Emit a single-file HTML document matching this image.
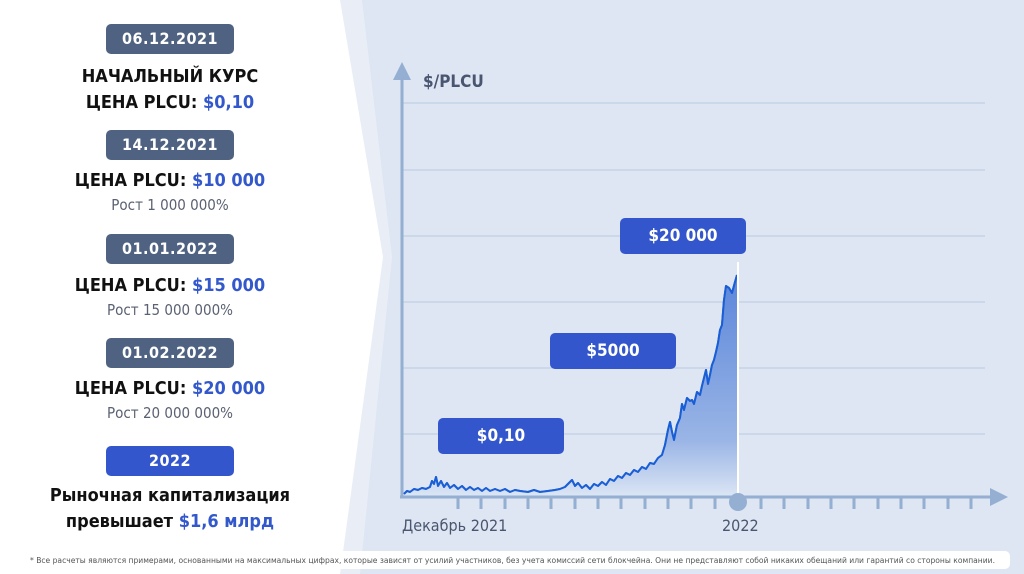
<!DOCTYPE html>
<html><head><meta charset="utf-8"><style>
body{margin:0;width:1024px;height:574px;overflow:hidden;background:#dde6f2;font-family:"DejaVu Sans Condensed","DejaVu Sans","Liberation Sans",sans-serif;font-stretch:condensed;position:relative}
.bx{position:absolute;left:106px;width:128px;height:30px;border-radius:5px;background:#4f6282;color:#fff;font-size:16px;font-weight:bold;text-align:center;line-height:30px;letter-spacing:0.5px}
.t{position:absolute;left:0;width:340px;text-align:center;color:#111;font-weight:bold;font-size:18px;line-height:26px}
.s{position:absolute;left:0;width:340px;text-align:center;color:#5a6172;font-size:15px}
.b{color:#3358cc}
.lab{position:absolute;background:#3356cc;color:#fff;border-radius:5px;font-size:17px;font-weight:bold;text-align:center;line-height:36px;width:126px;height:36px}
</style></head><body>
<svg width="1024" height="574" style="position:absolute;left:0;top:0">
<defs><linearGradient id="g" x1="0" y1="0" x2="0" y2="1"><stop offset="0" stop-color="#5b86da"/><stop offset="0.75" stop-color="#9ab5e6"/><stop offset="1" stop-color="#dbe5f4"/></linearGradient></defs>
<polygon points="0,0 362,0 392,257 360,574 0,574" fill="#e9eef6"/>
<polygon points="0,0 340,0 383,257 340,574 0,574" fill="#fff"/>
<g stroke="#b8c9e0" stroke-width="1">
<line x1="402" y1="103" x2="985" y2="103"/><line x1="402" y1="170" x2="985" y2="170"/><line x1="402" y1="236" x2="985" y2="236"/><line x1="402" y1="302" x2="985" y2="302"/><line x1="402" y1="368" x2="985" y2="368"/><line x1="402" y1="434" x2="985" y2="434"/></g>
<path id="ln" d="M404,494 L407,491 L410,492 L414,489 L418,490 L422,488 L426,489 L430,487 L432,481 L434,484 L436,477 L438,486 L441,481 L444,487 L447,483 L450,488 L454,485 L458,489 L462,486 L466,490 L470,487 L474,490 L478,488 L482,491 L486,488 L490,491 L495,489 L500,491 L505,489 L510,492 L515,490 L520,491 L528,492 L534,490 L540,492 L548,491 L555,490 L560,489 L565,487 L568,484 L572,480 L575,486 L578,483 L582,488 L586,485 L590,489 L594,484 L598,486 L602,482 L606,485 L610,479 L614,481 L618,476 L622,478 L626,473 L630,475 L634,470 L638,472 L642,467 L646,469 L650,463 L654,464 L658,458 L662,455 L665,445 L668,430 L670,422 L672,432 L674,440 L677,425 L680,418 L682,404 L684,410 L687,398 L690,401 L692,400 L694,404 L697,392 L700,395 L702,386 L704,378 L706,370 L708,384 L710,375 L712,365 L714,360 L716,352 L718,343 L720,330 L722,325 L724,300 L726,286 L729,288 L732,293 L735,282 L737,275" fill="none" stroke="#1a5ed6" stroke-width="2" stroke-linejoin="round"/>
<path d="M404,494 L407,491 L410,492 L414,489 L418,490 L422,488 L426,489 L430,487 L432,481 L434,484 L436,477 L438,486 L441,481 L444,487 L447,483 L450,488 L454,485 L458,489 L462,486 L466,490 L470,487 L474,490 L478,488 L482,491 L486,488 L490,491 L495,489 L500,491 L505,489 L510,492 L515,490 L520,491 L528,492 L534,490 L540,492 L548,491 L555,490 L560,489 L565,487 L568,484 L572,480 L575,486 L578,483 L582,488 L586,485 L590,489 L594,484 L598,486 L602,482 L606,485 L610,479 L614,481 L618,476 L622,478 L626,473 L630,475 L634,470 L638,472 L642,467 L646,469 L650,463 L654,464 L658,458 L662,455 L665,445 L668,430 L670,422 L672,432 L674,440 L677,425 L680,418 L682,404 L684,410 L687,398 L690,401 L692,400 L694,404 L697,392 L700,395 L702,386 L704,378 L706,370 L708,384 L710,375 L712,365 L714,360 L716,352 L718,343 L720,330 L722,325 L724,300 L726,286 L729,288 L732,293 L735,282 L737,275 L737,496 L404,496 Z" fill="url(#g)"/>
<use href="#ln"/>
<line x1="738" y1="262" x2="738" y2="496" stroke="#fff" stroke-width="2"/>
<g stroke="#94afd2" stroke-width="3">
<line x1="402" y1="72" x2="402" y2="498"/><line x1="400" y1="497" x2="998" y2="497"/>
<line x1="458" y1="497" x2="458" y2="509"/><line x1="481" y1="497" x2="481" y2="509"/><line x1="505" y1="497" x2="505" y2="509"/><line x1="528" y1="497" x2="528" y2="509"/><line x1="551" y1="497" x2="551" y2="509"/><line x1="575" y1="497" x2="575" y2="509"/><line x1="598" y1="497" x2="598" y2="509"/><line x1="621" y1="497" x2="621" y2="509"/><line x1="645" y1="497" x2="645" y2="509"/><line x1="668" y1="497" x2="668" y2="509"/><line x1="691" y1="497" x2="691" y2="509"/><line x1="715" y1="497" x2="715" y2="509"/><line x1="761" y1="497" x2="761" y2="509"/><line x1="784" y1="497" x2="784" y2="509"/><line x1="808" y1="497" x2="808" y2="509"/><line x1="831" y1="497" x2="831" y2="509"/><line x1="854" y1="497" x2="854" y2="509"/><line x1="878" y1="497" x2="878" y2="509"/><line x1="901" y1="497" x2="901" y2="509"/><line x1="924" y1="497" x2="924" y2="509"/><line x1="948" y1="497" x2="948" y2="509"/><line x1="971" y1="497" x2="971" y2="509"/></g>
<polygon points="402,62 393,80 411,80" fill="#94afd2"/>
<polygon points="1008,497 990,488 990,506" fill="#94afd2"/>
<circle cx="738" cy="502" r="9" fill="#94afd2"/>
<rect x="15" y="551" width="995" height="18" rx="5" fill="#fff"/>
<text x="30" y="563" font-size="8" fill="#555" textLength="965" lengthAdjust="spacingAndGlyphs" font-family="DejaVu Sans Condensed, DejaVu Sans, sans-serif">* Все расчеты являются примерами, основанными на максимальных цифрах, которые зависят от усилий участников, без учета комиссий сети блокчейна. Они не представляют собой никаких обещаний или гарантий со стороны компании.</text>
</svg>
<div style="position:absolute;left:423px;top:72px;font-size:17px;font-weight:bold;color:#4a5670">$/PLCU</div>
<div style="position:absolute;left:402px;top:516px;font-size:16px;color:#4a5670">Декабрь 2021</div>
<div style="position:absolute;left:722px;top:516px;font-size:16px;color:#4a5670">2022</div>
<div class="lab" style="left:620px;top:218px">$20 000</div>
<div class="lab" style="left:550px;top:333px">$5000</div>
<div class="lab" style="left:438px;top:418px">$0,10</div>
<div class="bx" style="top:24px">06.12.2021</div>
<div class="t" style="top:64px">НАЧАЛЬНЫЙ КУРС<br>ЦЕНА PLCU: <span class="b">$0,10</span></div>
<div class="bx" style="top:130px">14.12.2021</div>
<div class="t" style="top:168px">ЦЕНА PLCU: <span class="b">$10 000</span></div>
<div class="s" style="top:196px">Рост 1 000 000%</div>
<div class="bx" style="top:234px">01.01.2022</div>
<div class="t" style="top:273px">ЦЕНА PLCU: <span class="b">$15 000</span></div>
<div class="s" style="top:301px">Рост 15 000 000%</div>
<div class="bx" style="top:338px">01.02.2022</div>
<div class="t" style="top:376px">ЦЕНА PLCU: <span class="b">$20 000</span></div>
<div class="s" style="top:404px">Рост 20 000 000%</div>
<div class="bx" style="top:446px;background:#3356cc">2022</div>
<div class="t" style="top:483px">Рыночная капитализация<br>превышает <span class="b">$1,6 млрд</span></div>
</body></html>
